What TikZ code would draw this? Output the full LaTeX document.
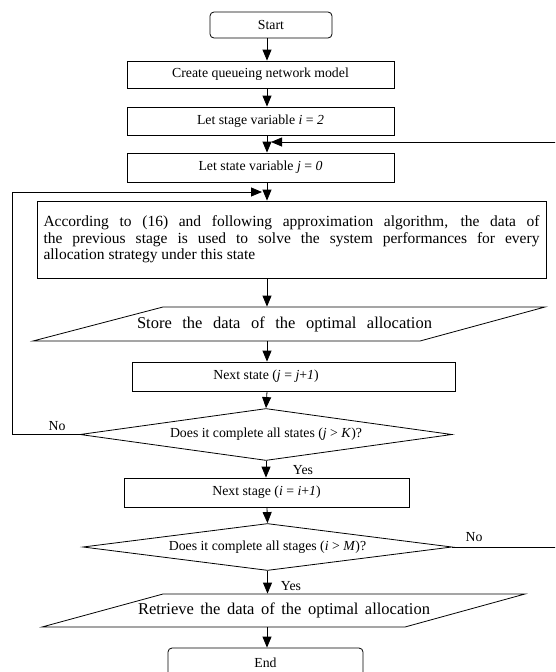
\documentclass[tikz,border=0pt]{standalone}
\usepackage{fontspec}
\setmainfont{Liberation Serif}
\usetikzlibrary{shapes.geometric,arrows.meta}
\begin{document}
\begin{tikzpicture}[x=1pt,y=-1pt,line width=0.8pt,
  smallfont/.style={font=\fontsize{13.8}{16}\selectfont},
  box/.style={draw,rectangle,inner sep=0pt,smallfont},
  rbox/.style={box,rounded corners=4pt},
  dec/.style={draw,diamond,inner sep=0pt,aspect=7,smallfont},
  para/.style={draw=none,inner sep=0pt,font=\fontsize{16.5}{18}\selectfont},
  arr/.style={-{Triangle[length=11pt,width=9pt]}},
  lbl/.style={inner sep=0pt,smallfont}]
\useasboundingbox (0,0) rectangle (555,672);
\clip (0,0) rectangle (555,672);
\coordinate (spine) at (267,0);
% nodes
\node[rbox,minimum width=122pt,minimum height=26pt] (start) at (271,25) {Start};
\node[box,minimum width=267pt,minimum height=27pt] (create) at (260.5,74.5) {Create queueing network model};
\node[box,minimum width=267pt,minimum height=28pt] (stage) at (260.5,121) {Let stage variable \textit{i} = \textit{2}};
\node[box,minimum width=267pt,minimum height=29pt] (statev) at (260.5,167.5) {Let state variable \textit{j} = \textit{0}};
\node[box,minimum width=509pt,minimum height=77pt,text width=496pt,align=left,
      font=\fontsize{15.5}{16.7}\selectfont] (big) at (291.5,239.5)
  {\spaceskip=0pt\xspaceskip=0pt\relax
   \makebox[496pt][s]{According to (16) and following approximation algorithm, the data of}\\
   \makebox[496pt][s]{the previous stage is used to solve the system performances for every}\\
   allocation strategy under this state};
\draw (163,307) -- (545,307) -- (420,341) -- (33,341) -- cycle;
\node[para,minimum height=34pt] (store) at (284.5,324)
  {\makebox[295pt][s]{Store the data of the optimal allocation}};
\node[box,minimum width=323pt,minimum height=29pt] (nextstate) at (293.5,376.5) {};
\node[lbl] (nslabel) at (266,376.5) {Next state (\textit{j} = \textit{j}+\textit{1})};
\node[dec,minimum width=372pt,minimum height=52pt] (d1) at (266,434.5)
  {Does it complete all states (\textit{j} > \textit{K})?};
\node[box,minimum width=285pt,minimum height=29pt] (nextstage) at (266.5,492.5)
  {Next stage (\textit{i} = \textit{i}+\textit{1})};
\node[dec,minimum width=369pt,minimum height=47pt] (d2) at (267.5,547)
  {Does it complete all stages (\textit{i} > \textit{M})?};
\draw (163,594) -- (525,594) -- (405,627) -- (42,627) -- cycle;
\node[para,minimum height=33pt] (retrieve) at (284,610.5)
  {\makebox[292pt][s]{Retrieve the data of the optimal allocation}};
\node[rbox,minimum width=195pt,minimum height=30pt] (end) at (265.5,663) {End};
% labels
\node[lbl] (no1) at (57,426) {No};
\node[lbl] (yes1) at (303,470) {Yes};
\node[lbl] (no2) at (474,537) {No};
\node[lbl] (yes2) at (291,586) {Yes};
% connectors
\draw[arr] (start.south -| spine) -- (create.north -| spine);
\draw[arr] (create.south -| spine) -- (stage.north -| spine);
\draw[arr] (stage.south -| spine) -- (statev.north -| spine);
\draw[arr] (statev.south -| spine) -- (big.north -| spine);
\draw[arr] (big.south -| spine) -- (store.north -| spine);
\draw[arr] (store.south -| spine) -- (nextstate.north -| spine);
\draw[arr] (nextstate.south -| spine) -- (d1.north);
\draw[arr] (d1.south) -- (nextstage.north -| d1.south);
\draw[arr] (nextstage.south -| spine) -- (d2.north);
\draw[arr] (d2.south) -- (retrieve.north -| d2.south);
\draw[arr] (retrieve.south -| spine) -- (end.north -| spine);
% loops
\coordinate (lp1) at (12,436);
\coordinate (lp2) at (12,192);
\coordinate (lp3) at (262,192);
\draw[arr] (d1.west) -- (d1.west -| lp1) -- (lp2) -- (lp3);
\coordinate (rp1) at (558,547);
\coordinate (rp2) at (558,142);
\coordinate (rp3) at (271,142);
\draw[arr] (d2.east) -- (d2.east -| rp1) -- (rp2) -- (rp3);
\end{tikzpicture}
\end{document}
